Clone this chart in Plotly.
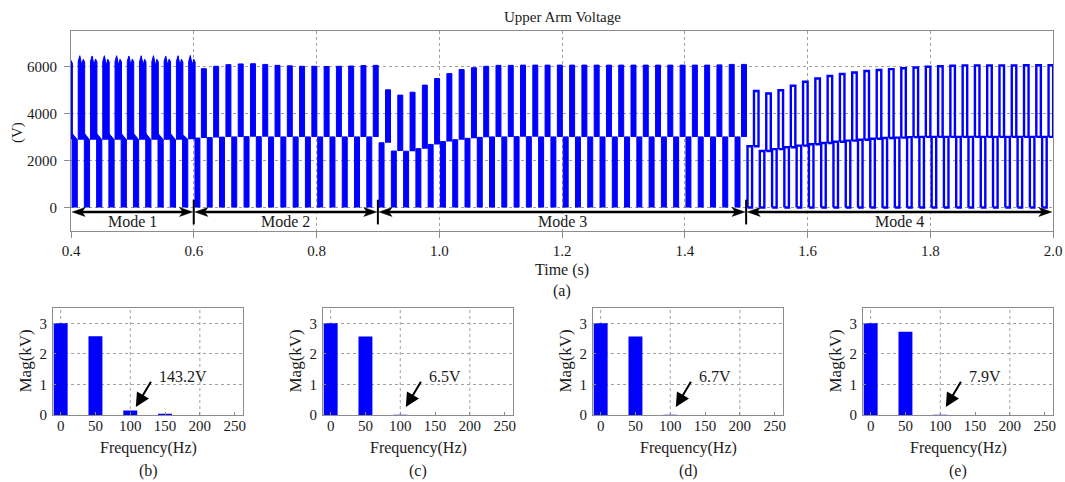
import plotly.graph_objects as go

W, H = 1065, 482
FONT = "Liberation Serif"
BLUE = "#0000ff"
FRAME = "#8c8c8c"
GRID = "#a0a0a0"
TEXT = "#1a1a1a"

FUND_PERIOD = 0.02  # 50 Hz fundamental cycle

# ---------------- time-domain data ----------------
time_ticks = [0.4, 0.6, 0.8, 1.0, 1.2, 1.4, 1.6, 1.8, 2.0]
volt_ticks = [0, 2000, 4000, 6000]
mode_bounds = [0.4, 0.6, 0.9, 1.5, 2.0]
mode_names = ["Mode 1", "Mode 2", "Mode 3", "Mode 4"]

# Mode 1: cycles start at 0.38 s (first one only partly inside the window)
mode1_start = 0.38
mode1_spike1 = [6250, 6450, 6440, 6450, 6450, 6440, 6450, 6450, 6440, 6450, 6460]
mode1_notch = [6050, 6050, 6060, 6050, 6050, 6060, 6050, 6050, 6060, 6050, 6050]
mode1_spike2 = [6250, 6300, 6310, 6300, 6300, 6310, 6300, 6300, 6310, 6300, 6300]
mode1_mid_hi = [3200, 3150, 3150, 3150, 3150, 3150, 3150, 3150, 3150, 3150, 3100]
mode1_mid_lo = [2900, 2880, 2880, 2880, 2880, 2880, 2880, 2880, 2880, 2880, 2900]

# Mode 2: 0.60 s - 0.90 s
mode2_start = 0.60
mode2_peak = [5900, 6000, 6070, 6100, 6110, 6080, 6040, 6020, 6000, 6000,
              5990, 6000, 6010, 6030, 6040]
mode2_mid = [2950, 2970, 2990, 3000, 3010, 3010, 3000, 3000, 3000, 3000,
             3000, 3000, 3000, 3000, 3000]

# Mode 3: 0.90 s - 1.50 s
mode3_start = 0.90
mode3_peak = [5000, 4775, 4900, 5200, 5480, 5690, 5860, 5940, 6000, 6040,
              6040, 6050, 6050, 6050, 6050, 6050, 6050, 6050, 6050, 6050,
              6050, 6050, 6050, 6050, 6050, 6050, 6050, 6060, 6080, 6080]
mode3_mid = [2750, 2400, 2390, 2500, 2680, 2800, 2880, 2940, 2980, 3000,
             3000, 3010, 3010, 3000, 3000, 3000, 3000, 3000, 3000, 3000,
             3000, 3000, 3000, 3000, 3000, 3000, 3000, 3000, 3000, 3000]

# Mode 4: 1.50 s - 2.00 s
mode4_start = 1.50
mode4_peak = [4950, 4845, 4985, 5170, 5340, 5480, 5590, 5675, 5735, 5800,
              5840, 5880, 5920, 5950, 5980, 6000, 6020, 6040, 6040, 6040,
              6040, 6040, 6050, 6050, 6050]
mode4_mid = [2600, 2400, 2480, 2560, 2630, 2690, 2740, 2790, 2840, 2880,
             2920, 2950, 2970, 2990, 3000, 3000, 3000, 3000, 3000, 3000,
             3000, 3000, 3000, 3000, 3000]

# ---------------- spectra ----------------
freq_bins = [0, 50, 100, 150, 200, 250]
freq_grid = [0, 100, 200]
mag_ticks = [0, 1, 2, 3]
spectra = {
    "(b)": [3.0, 2.58, 0.1432, 0.04, 0.0, 0.0],
    "(c)": [3.0, 2.57, 0.0065, 0.0, 0.0, 0.0],
    "(d)": [3.0, 2.57, 0.0067, 0.0, 0.0, 0.0],
    "(e)": [3.0, 2.72, 0.0079, 0.0, 0.0, 0.0],
}
BAR_W = 20  # Hz

# ---------------- pulse geometry (within one cycle) ----------------
UP_PHASE, LOW_PHASE = 0.0165, 0.0060
UP_W, LOW_W = 0.0081, 0.0081
M1_UP_PHASE, M1_UP_W, M1_LOW_W = 0.0170, 0.0105, 0.0085
M4_W = 0.0074


def add_poly(xs, ys, pts, close=False):
    for px, py in pts:
        xs.append(px)
        ys.append(py)
    if close:
        xs.append(pts[0][0])
        ys.append(pts[0][1])
    xs.append(None)
    ys.append(None)


fx, fy = [], []      # solid pulses (modes 1-3)
ox, oy = [], []      # outlined pulses (mode 4)

for k in range(len(mode1_spike1)):
    t0 = mode1_start + k * FUND_PERIOD
    l0, l1 = t0 + LOW_PHASE - M1_LOW_W / 2, t0 + LOW_PHASE + M1_LOW_W / 2
    add_poly(fx, fy, [(l0, 0), (l0, mode1_mid_hi[k]), (l1, mode1_mid_lo[k]), (l1, 0)])
    u0 = t0 + M1_UP_PHASE - M1_UP_W / 2
    w = M1_UP_W
    add_poly(fx, fy, [(u0, mode1_mid_lo[k]), (u0, mode1_spike2[k] - 100),
                      (u0 + 0.25 * w, mode1_spike1[k]), (u0 + 0.55 * w, mode1_notch[k]),
                      (u0 + 0.78 * w, mode1_spike2[k]), (u0 + w, mode1_spike2[k] - 120),
                      (u0 + w, mode1_mid_lo[k])])

for start, peak, mid in ((mode2_start, mode2_peak, mode2_mid),
                         (mode3_start, mode3_peak, mode3_mid)):
    for k in range(len(peak)):
        t0 = start + k * FUND_PERIOD
        l0, l1 = t0 + LOW_PHASE - LOW_W / 2, t0 + LOW_PHASE + LOW_W / 2
        add_poly(fx, fy, [(l0, 0), (l0, mid[k]), (l1, mid[k]), (l1, 0)])
        u0, u1 = t0 + UP_PHASE - UP_W / 2, t0 + UP_PHASE + UP_W / 2
        add_poly(fx, fy, [(u0, mid[k]), (u0, peak[k]), (u1, peak[k]), (u1, mid[k])])

for k in range(len(mode4_peak)):
    t0 = mode4_start + k * FUND_PERIOD
    l0, l1 = t0 + LOW_PHASE - M4_W / 2, t0 + LOW_PHASE + M4_W / 2
    add_poly(ox, oy, [(l0, 0), (l0, mode4_mid[k]), (l1, mode4_mid[k]), (l1, 0)], close=True)
    u0, u1 = t0 + UP_PHASE - M4_W / 2, t0 + UP_PHASE + M4_W / 2
    add_poly(ox, oy, [(u0, mode4_mid[k]), (u0, mode4_peak[k]), (u1, mode4_peak[k]),
                      (u1, mode4_mid[k])], close=True)

fig = go.Figure()
fig.add_trace(go.Scatter(x=fx, y=fy, mode="lines", fill="toself", fillcolor=BLUE,
                         line=dict(color=BLUE, width=1), hoverinfo="skip",
                         showlegend=False, xaxis="x", yaxis="y"))
fig.add_trace(go.Scatter(x=ox, y=oy, mode="lines",
                         line=dict(color=BLUE, width=2.4), hoverinfo="skip",
                         showlegend=False, xaxis="x", yaxis="y"))


def px_x(p):
    return p / W


def px_y(p):
    return 1 - p / H


def axis_style(**kw):
    base = dict(showline=True, mirror=True, linecolor=FRAME, linewidth=1,
                ticks="outside", ticklen=6, tickcolor=FRAME, zeroline=False,
                automargin=False, tickfont=dict(family=FONT, size=15, color=TEXT))
    base.update(kw)
    return base


fig.update_layout(
    xaxis=axis_style(domain=[px_x(71), px_x(1053)], range=[0.4, 2.0], tickvals=time_ticks,
                     ticktext=[f"{t:.1f}" for t in time_ticks], showgrid=True,
                     gridcolor=GRID, griddash="dot", gridwidth=1, anchor="y"),
    yaxis=axis_style(domain=[px_y(231), px_y(31)], range=[-1000, 7500], tickvals=volt_ticks,
                     showgrid=True, gridcolor=GRID, griddash="dot", gridwidth=1, anchor="x",
                     ticklabelstandoff=4),
)


def label(x, y, text, size=16, angle=0, **kw):
    return dict(x=x, y=y, text=text, showarrow=False, textangle=angle,
                xanchor="center", yanchor="middle",
                font=dict(family=FONT, size=size, color=TEXT), **kw)


annotations = []
shapes = []

# ---- mode arrows under the waveform ----
ARROW_Y = -190
HEAD_LEN, HEAD_HALF = 0.021, 190
for i, name in enumerate(mode_names):
    a, b = mode_bounds[i], mode_bounds[i + 1]
    a_tip, b_tip = a + 0.002, b - 0.002
    shapes.append(dict(type="line", xref="x", yref="y", x0=a_tip + HEAD_LEN * 0.7,
                       x1=b_tip - HEAD_LEN * 0.7, y0=ARROW_Y, y1=ARROW_Y,
                       line=dict(color="black", width=2.5), layer="above"))
    for tip, sgn in ((a_tip, 1), (b_tip, -1)):
        path = (f"M {tip},{ARROW_Y} L {tip + sgn * HEAD_LEN},{ARROW_Y + HEAD_HALF} "
                f"L {tip + sgn * HEAD_LEN * 0.75},{ARROW_Y} "
                f"L {tip + sgn * HEAD_LEN},{ARROW_Y - HEAD_HALF} Z")
        shapes.append(dict(type="path", xref="x", yref="y", path=path,
                           fillcolor="black", line=dict(color="black", width=0.5),
                           layer="above"))
    annotations.append(label((a + b) / 2, -600, name, xref="x", yref="y"))
for sep in mode_bounds[1:-1]:
    shapes.append(dict(type="line", xref="x", yref="y", x0=sep, x1=sep, y0=330, y1=-720,
                       line=dict(color="black", width=2), layer="above"))

annotations += [
    label(px_x(562), px_y(17), "Upper Arm Voltage", size=15, xref="paper", yref="paper"),
    label(px_x(17), px_y(133), "(V)", size=15, angle=-90, xref="paper", yref="paper"),
    label(px_x(562), px_y(270), "Time (s)", xref="paper", yref="paper"),
    label(px_x(562), px_y(291), "(a)", xref="paper", yref="paper"),
]

# ---------------- spectrum panels ----------------
panel_left = [53, 323, 593, 863]
PANEL_W = 190
for i, (tag, mags) in enumerate(spectra.items()):
    n = i + 2
    xa, ya = f"x{n}", f"y{n}"
    left = panel_left[i]
    # one filled rectangle per frequency bin, scaled by the panel axes
    bx, by = [], []
    for f, m in zip(freq_bins, mags):
        if m > 0:
            add_poly(bx, by, [(f - BAR_W / 2, 0), (f - BAR_W / 2, m),
                              (f + BAR_W / 2, m), (f + BAR_W / 2, 0)])
    fig.add_trace(go.Scatter(x=bx, y=by, mode="lines", fill="toself", fillcolor=BLUE,
                             line=dict(width=0, color=BLUE), hoverinfo="skip",
                             showlegend=False, xaxis=xa, yaxis=ya))
    fig.layout[f"xaxis{n}"] = axis_style(domain=[px_x(left), px_x(left + PANEL_W)],
                                         range=[-11, 262], tickvals=freq_bins,
                                         showgrid=False, anchor=ya, ticks="inside",
                                         ticklen=3, ticklabelstandoff=-3)
    fig.layout[f"yaxis{n}"] = axis_style(domain=[px_y(415), px_y(308)], range=[0, 3.5],
                                         tickvals=mag_ticks, showgrid=True, gridcolor=GRID,
                                         griddash="dot", gridwidth=1, anchor=xa,
                                         ticks="inside", ticklen=3, ticklabelstandoff=2)
    for g in freq_grid:
        shapes.append(dict(type="line", xref=xa, yref=ya, x0=g, x1=g, y0=0, y1=3.5,
                           line=dict(color=GRID, width=1, dash="dot"), layer="below"))
    harmonic = mags[2]
    annotations.append(dict(x=108, y=0.26, ax=131, ay=1.14, xref=xa, yref=ya,
                            axref=xa, ayref=ya, text="", showarrow=True, arrowhead=2,
                            arrowsize=1.4, arrowwidth=2, arrowcolor="black", standoff=0))
    annotations.append(dict(x=139, y=1.27, xref=xa, yref=ya, text=f"{harmonic * 1000:.1f}V",
                            xanchor="left", yanchor="middle", showarrow=False,
                            font=dict(family=FONT, size=16, color=TEXT)))
    cx = left + PANEL_W / 2
    annotations.append(label(px_x(cx), px_y(448), "Frequency(Hz)", xref="paper", yref="paper"))
    annotations.append(label(px_x(cx), px_y(471), tag, xref="paper", yref="paper"))
    annotations.append(label(px_x(left - 28.5), px_y(361), "Mag(kV)", size=17, angle=-90,
                             xref="paper", yref="paper"))

fig.update_layout(width=W, height=H, margin=dict(l=0, r=0, t=0, b=0, pad=0),
                  paper_bgcolor="white", plot_bgcolor="white",
                  shapes=shapes, annotations=annotations, showlegend=False)

fig.write_html("out.html")
